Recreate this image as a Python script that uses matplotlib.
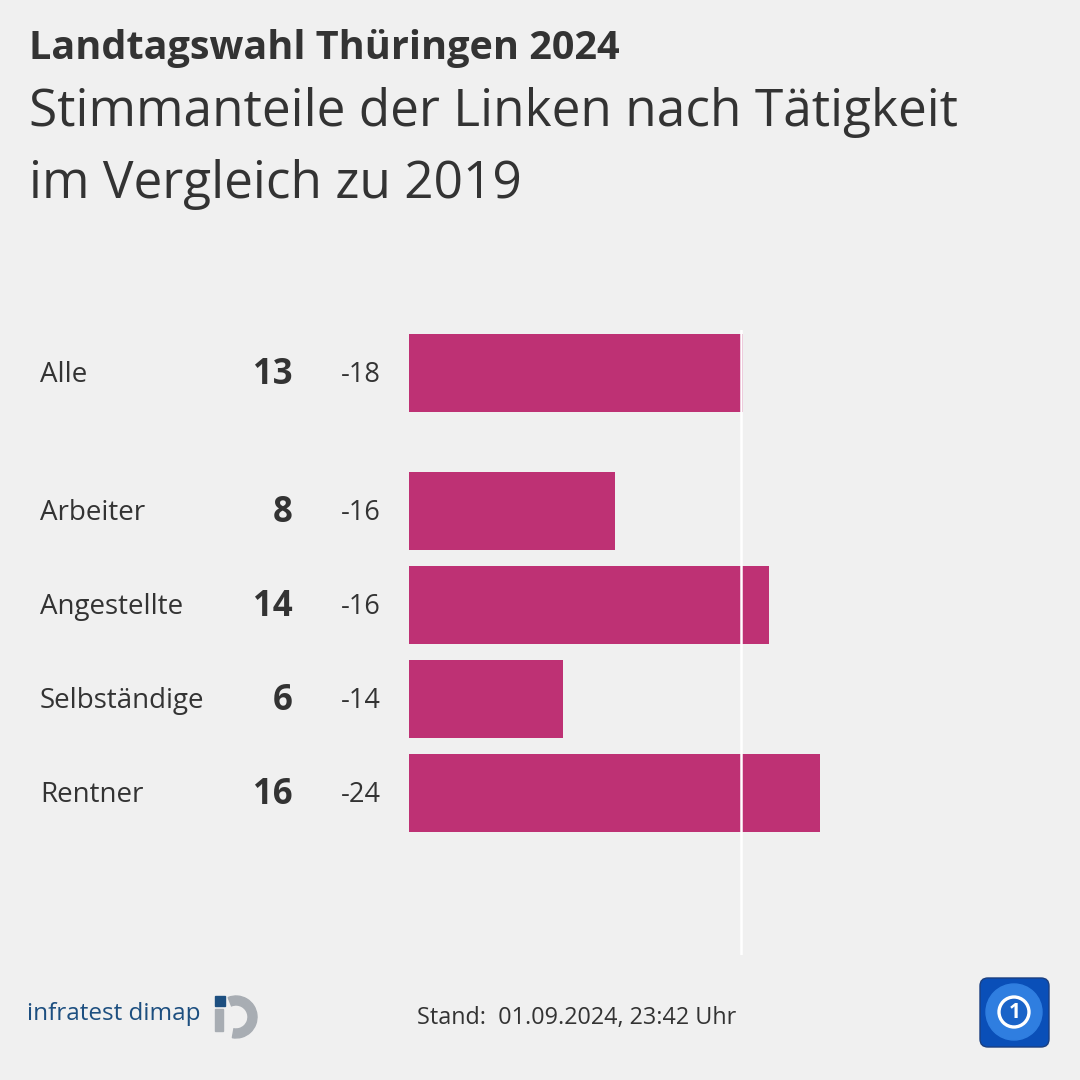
import matplotlib.pyplot as plt
from matplotlib.patches import FancyBboxPatch, Rectangle, Wedge, Circle

# Data
categories = ["Alle", "Arbeiter", "Angestellte", "Selbständige", "Rentner"]
shares_2024 = [13, 8, 14, 6, 16]
change_vs_2019 = [-18, -16, -16, -14, -24]

BG = "#f0f0f0"
BAR = "#be3174"
TEXT = "#333333"
FONT = ["Open Sans", "DejaVu Sans"]

plt.rcParams["font.family"] = FONT

fig = plt.figure(figsize=(10.8, 10.8), dpi=100)
fig.patch.set_facecolor(BG)

W = H = 1080.0


def px_axes(x0, y0, x1, y1):
    """Axes placed with pixel coordinates measured from the top-left."""
    return fig.add_axes([x0 / W, 1 - y1 / H, (x1 - x0) / W, (y1 - y0) / H])


# Overlay axes for text and logos, in pixels
ov = px_axes(0, 0, W, H)
ov.set_xlim(0, W)
ov.set_ylim(H, 0)
ov.axis("off")

# Bar area: rows are 94 px apart, "Alle" separated by a wider gap
row_px = 94.0
y_pos = [0.0] + [138 / row_px + i for i in range(len(categories) - 1)]
ax = px_axes(409, 330, 409 + 25.7 * 25, 955)
ax.set_facecolor("none")
ax.set_xlim(0, 25)
ax.set_ylim((955 - 373) / row_px, -(373 - 330) / row_px)
ax.barh(y_pos, shares_2024, height=78 / row_px, color=BAR, zorder=2)
# reference line at the overall value, drawn just inside the "Alle" bar end
ax.axvline(shares_2024[0] - 0.08, color="white", lw=1.8, zorder=3)
ax.axis("off")

# Row labels
for cat, val, chg, y in zip(categories, shares_2024, change_vs_2019, y_pos):
    ypx = 375 + y * row_px
    ov.text(40, ypx, cat, fontsize=20, color=TEXT, va="center", ha="left")
    ov.text(293, ypx, str(val), fontsize=25, fontweight="bold", color=TEXT,
            va="center", ha="right")
    ov.text(381, ypx, str(chg), fontsize=19.5, color=TEXT, va="center", ha="right")

# Titles
ov.text(29, 49, "Landtagswahl Thüringen 2024", fontsize=28.5, fontweight="bold",
        color=TEXT, va="center", ha="left")
ov.text(29, 113, "Stimmanteile der Linken nach Tätigkeit", fontsize=37,
        color=TEXT, va="center", ha="left")
ov.text(29, 184, "im Vergleich zu 2019", fontsize=37, color=TEXT,
        va="center", ha="left")

# Footer
ov.text(417, 1018, "Stand:  01.09.2024, 23:42 Uhr", fontsize=16.8, color=TEXT,
        va="center", ha="left")

# infratest dimap logo
ov.text(27, 1014, "infratest dimap", fontsize=17.5, color="#1d4f80",
        va="center", ha="left")
ov.add_patch(Rectangle((215, 996), 10, 10, color="#1d4f80"))
ov.add_patch(Rectangle((215, 1009), 8, 22, color="#a8adb3"))
ov.add_patch(Wedge((236, 1017), 21, -112, 100, width=9, color="#a8adb3"))

# ARD tagesschau app-style logo
ov.add_patch(FancyBboxPatch((980, 978), 69, 69, boxstyle="round,pad=0,rounding_size=8",
                            facecolor="#0a4fb8", edgecolor="#1a3f80", lw=1))
ov.add_patch(Circle((1014, 1012), 28, color="#2f7ee0"))
ov.add_patch(Circle((1014, 1012), 15, facecolor="#1a63c8", edgecolor="white", lw=2.4))
ov.text(1015, 1013, "1", fontsize=15, fontweight="bold", color="white",
        va="center", ha="center")

fig.savefig("out.png", dpi=100, facecolor=BG)
